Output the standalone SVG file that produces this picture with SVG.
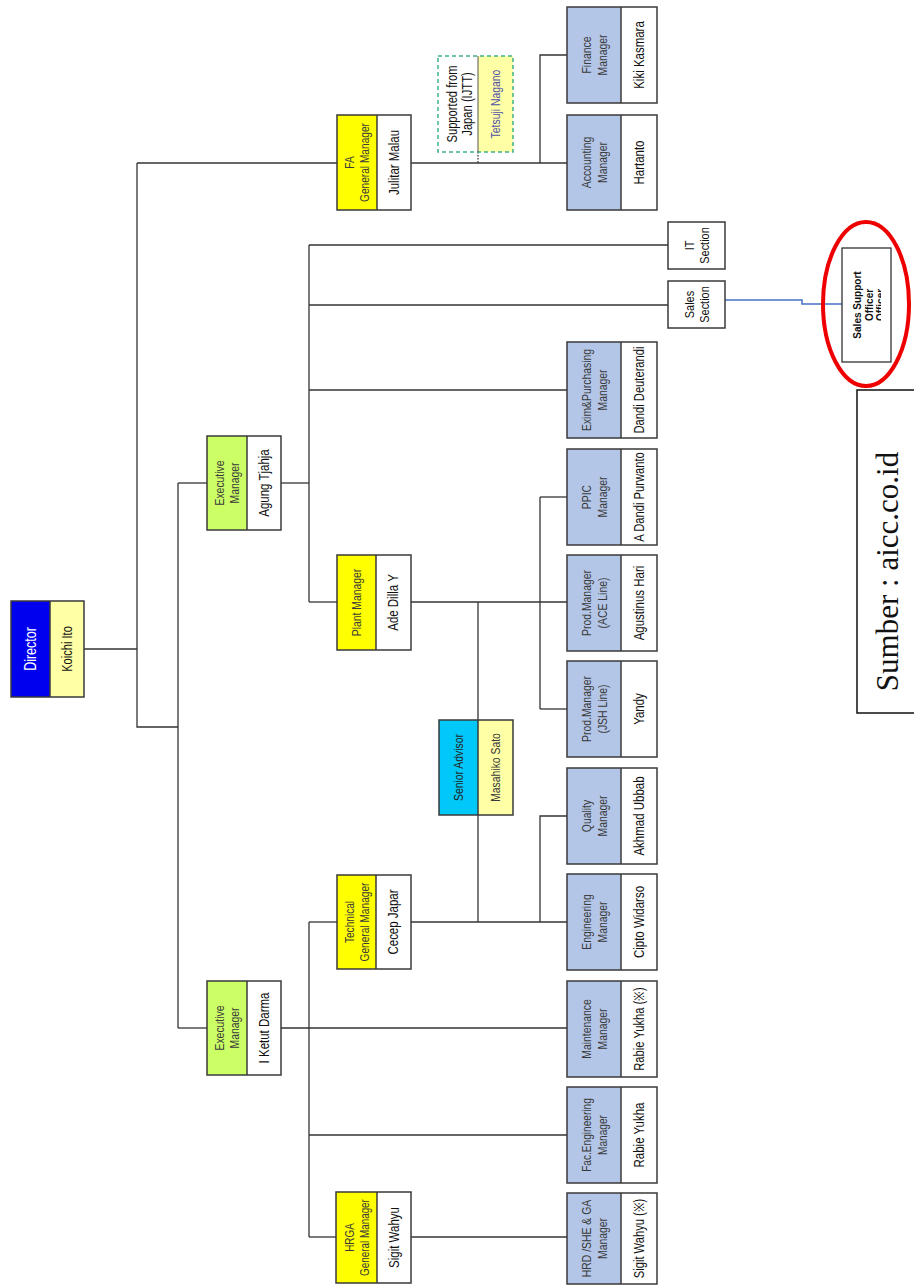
<svg xmlns="http://www.w3.org/2000/svg" width="914" height="1287" viewBox="0 0 914 1287">
<defs>
<style>
.bg{fill:#ffffff}
.ol{fill:none;stroke:#3a3a3a;stroke-width:1.5}
.w{fill:#ffffff}
.ly{fill:#ffffa6}
.gm{fill:#ffff00}
.ex{fill:#ccff66}
.mg{fill:#b4c6e7}
.dir{fill:#0000ee}
.sa{fill:#00c8f8}
.t{font-family:"Liberation Sans",Arial,sans-serif;font-size:13px;fill:#3a3a3a;text-anchor:middle}
.n{font-family:"Liberation Sans",Arial,sans-serif;font-size:14px;fill:#111111;text-anchor:middle}
.s{font-family:"Liberation Sans",Arial,sans-serif;font-size:13px;fill:#111111;text-anchor:middle}
.c path{fill:none;stroke:#333333;stroke-width:1.3}
</style>
<clipPath id="ssclip"><rect x="842" y="248" width="39" height="114"/></clipPath>
</defs>
<rect class="bg" x="0" y="0" width="914" height="1287"/>

<g class="c" id="connectors">
<path d="M84,649 H137"/>
<path d="M137,163 V727 H178"/>
<path d="M137,163 H337"/>
<path d="M411,163 H567"/>
<path d="M540,163 V55 H567"/>
<path d="M178,483 V1028"/>
<path d="M178,483 H207"/>
<path d="M178,1028 H207"/>
<path d="M281,483 H309"/>
<path d="M309,245 V602"/>
<path d="M309,245 H668"/>
<path d="M309,305 H668"/>
<path d="M309,390 H567"/>
<path d="M309,602 H337"/>
<path d="M411,602 H567"/>
<path d="M540,497 V709"/>
<path d="M540,497 H567"/>
<path d="M540,709 H567"/>
<path d="M478,602 V720"/>
<path d="M478,815 V922"/>
<path d="M281,1028 H567"/>
<path d="M309,922 V1237"/>
<path d="M309,922 H337"/>
<path d="M411,922 H567"/>
<path d="M540,922 V816 H567"/>
<path d="M309,1135 H567"/>
<path d="M309,1237 H336"/>
<path d="M411,1237 H567"/>
<path d="M478,152 V163" style="stroke-dasharray:1.5,1.5"/>
<path d="M725,300 H802 V304 H842" style="stroke:#4472c4;stroke-width:1.5"/>
</g>

<g id="n-director">
<rect class="dir" x="11" y="601" width="39" height="96"/>
<rect class="ly" x="50" y="601" width="34" height="96"/>
<rect class="ol" x="11" y="601" width="73" height="96"/>
<path d="M50,601 V697" class="ol"/>
<text class="t" style="font-size:16px;fill:#ffffff" transform="translate(30.5,649) rotate(-90) scale(0.78,1)" y="5.6">Director</text>
<text class="n" style="font-size:15px" transform="translate(67,649) rotate(-90) scale(0.74,1)" y="5.3">Koichi Ito</text>
</g>

<g id="n-exec1">
<rect class="ex" x="207" y="436" width="40" height="94"/>
<rect class="w" x="247" y="436" width="34" height="94"/>
<rect class="ol" x="207" y="436" width="74" height="94"/>
<path d="M247,436 V530" class="ol"/>
<text class="t" transform="translate(227,483) rotate(-90) scale(0.8,1)"><tspan x="0" y="-2.9">Executive</tspan><tspan x="0" y="12.1">Manager</tspan></text>
<text class="n" transform="translate(264,483) rotate(-90) scale(0.82,1)" y="4.9">Agung Tjahja</text>
</g>

<g id="n-exec2">
<rect class="ex" x="207" y="981" width="40" height="94"/>
<rect class="w" x="247" y="981" width="34" height="94"/>
<rect class="ol" x="207" y="981" width="74" height="94"/>
<path d="M247,981 V1075" class="ol"/>
<text class="t" transform="translate(227,1028) rotate(-90) scale(0.8,1)"><tspan x="0" y="-2.9">Executive</tspan><tspan x="0" y="12.1">Manager</tspan></text>
<text class="n" transform="translate(264,1028) rotate(-90) scale(0.82,1)" y="4.9">I Ketut Darma</text>
</g>

<g id="n-fa">
<rect class="gm" x="337" y="115" width="40" height="95"/>
<rect class="w" x="377" y="115" width="34" height="95"/>
<rect class="ol" x="337" y="115" width="74" height="95"/>
<path d="M377,115 V210" class="ol"/>
<text class="t" transform="translate(357,162.5) rotate(-90) scale(0.78,1)"><tspan x="0" y="-2.9">FA</tspan><tspan x="0" y="12.1">General Manager</tspan></text>
<text class="n" transform="translate(394,162.5) rotate(-90) scale(0.82,1)" y="4.9">Julitar Malau</text>
</g>

<g id="n-supported">
<rect class="w" x="438" y="56" width="40" height="96"/>
<rect class="ly" x="478" y="56" width="35" height="96"/>
<rect x="438" y="56" width="75" height="96" style="fill:none;stroke:#3cb38a;stroke-width:1.5;stroke-dasharray:4,3"/>
<path d="M478,56 V152" style="stroke:#555;stroke-width:1"/>
<text class="n" transform="translate(459.5,104) rotate(-90) scale(0.8,1)"><tspan x="0" y="-2.6">Supported from</tspan><tspan x="0" y="12.4">Japan (IJTT)</tspan></text>
<text class="n" style="font-size:13px;fill:#5050a8" transform="translate(495.5,104) rotate(-90) scale(0.8,1)" y="4.6">Tetsuji Nagano</text>
</g>

<g id="n-plant">
<rect class="gm" x="337" y="555" width="39" height="95"/>
<rect class="w" x="376" y="555" width="35" height="95"/>
<rect class="ol" x="337" y="555" width="74" height="95"/>
<path d="M376,555 V650" class="ol"/>
<text class="t" transform="translate(356.5,602.5) rotate(-90) scale(0.8,1)" y="4.6">Plant Manager</text>
<text class="n" transform="translate(393.5,602.5) rotate(-90) scale(0.82,1)" y="4.9">Ade Dilla Y</text>
</g>

<g id="n-technical">
<rect class="gm" x="337" y="875" width="39" height="94"/>
<rect class="w" x="376" y="875" width="35" height="94"/>
<rect class="ol" x="337" y="875" width="74" height="94"/>
<path d="M376,875 V969" class="ol"/>
<text class="t" transform="translate(356.5,922) rotate(-90) scale(0.78,1)"><tspan x="0" y="-2.9">Technical</tspan><tspan x="0" y="12.1">General Manager</tspan></text>
<text class="n" transform="translate(393.5,922) rotate(-90) scale(0.82,1)" y="4.9">Cecep Japar</text>
</g>

<g id="n-hrga">
<rect class="gm" x="336" y="1192" width="41" height="91"/>
<rect class="w" x="377" y="1192" width="34" height="91"/>
<rect class="ol" x="336" y="1192" width="75" height="91"/>
<path d="M377,1192 V1283" class="ol"/>
<text class="t" transform="translate(356.5,1237.5) rotate(-90) scale(0.76,1)"><tspan x="0" y="-2.9">HRGA</tspan><tspan x="0" y="12.1">General Manager</tspan></text>
<text class="n" transform="translate(394,1237.5) rotate(-90) scale(0.82,1)" y="4.9">Sigit Wahyu</text>
</g>

<g id="n-senior">
<rect class="sa" x="439" y="720" width="39" height="95"/>
<rect class="ly" x="478" y="720" width="35" height="95"/>
<rect class="ol" x="439" y="720" width="74" height="95"/>
<path d="M478,720 V815" class="ol"/>
<text class="t" style="fill:#222" transform="translate(458.5,767.5) rotate(-90) scale(0.8,1)" y="4.6">Senior Advisor</text>
<text class="t" transform="translate(495.5,767.5) rotate(-90) scale(0.8,1)" y="4.6">Masahiko Sato</text>
</g>

<g id="n-finance">
<rect class="mg" x="567" y="7" width="54" height="96"/>
<rect class="w" x="621" y="7" width="36" height="96"/>
<rect class="ol" x="567" y="7" width="90" height="96"/>
<path d="M621,7 V103" class="ol"/>
<text class="t" transform="translate(594,55) rotate(-90) scale(0.8,1)"><tspan x="0" y="-3.4">Finance</tspan><tspan x="0" y="12.6">Manager</tspan></text>
<text class="n" transform="translate(639,55) rotate(-90) scale(0.82,1)" y="4.9">Kiki Kasmara</text>
</g>

<g id="n-accounting">
<rect class="mg" x="567" y="115" width="54" height="95"/>
<rect class="w" x="621" y="115" width="36" height="95"/>
<rect class="ol" x="567" y="115" width="90" height="95"/>
<path d="M621,115 V210" class="ol"/>
<text class="t" transform="translate(594,162.5) rotate(-90) scale(0.8,1)"><tspan x="0" y="-3.4">Accounting</tspan><tspan x="0" y="12.6">Manager</tspan></text>
<text class="n" transform="translate(639,162.5) rotate(-90) scale(0.82,1)" y="4.9">Hartanto</text>
</g>

<g id="n-it">
<rect class="w" x="668" y="222" width="57" height="47"/>
<rect class="ol" x="668" y="222" width="57" height="47"/>
<text class="s" transform="translate(697,245.5) rotate(-90) scale(0.84,1)"><tspan x="0" y="-3">IT</tspan><tspan x="0" y="12.5">Section</tspan></text>
</g>

<g id="n-sales">
<rect class="w" x="668" y="281" width="57" height="47"/>
<rect class="ol" x="668" y="281" width="57" height="47"/>
<text class="s" transform="translate(697,304.5) rotate(-90) scale(0.84,1)"><tspan x="0" y="-3">Sales</tspan><tspan x="0" y="12.5">Section</tspan></text>
</g>

<g id="n-salessupport">
<rect x="842" y="248" width="49" height="114" style="fill:#ffffff;stroke:#222;stroke-width:1.2"/>
<g clip-path="url(#ssclip)">
<text class="s" style="font-size:10px;font-weight:bold" transform="translate(861,305) rotate(-90)"><tspan x="0" y="0">Sales Support</tspan><tspan x="0" y="11.5">Officer</tspan><tspan x="0" y="23">Officer</tspan></text>
</g>
</g>

<g id="highlight">
<ellipse cx="866" cy="304" rx="43" ry="82" style="fill:none;stroke:#ee0000;stroke-width:4"/>
</g>

<g id="n-exim">
<rect class="mg" x="567" y="342" width="54" height="96"/>
<rect class="w" x="621" y="342" width="36" height="96"/>
<rect class="ol" x="567" y="342" width="90" height="96"/>
<path d="M621,342 V438" class="ol"/>
<text class="t" transform="translate(594,390) rotate(-90) scale(0.8,1)"><tspan x="0" y="-3.4">Exim&amp;Purchasing</tspan><tspan x="0" y="12.6">Manager</tspan></text>
<text class="n" transform="translate(639,390) rotate(-90) scale(0.8,1)" y="4.9">Dandi Deuterandi</text>
</g>

<g id="n-ppic">
<rect class="mg" x="567" y="449" width="54" height="96"/>
<rect class="w" x="621" y="449" width="36" height="96"/>
<rect class="ol" x="567" y="449" width="90" height="96"/>
<path d="M621,449 V545" class="ol"/>
<text class="t" transform="translate(594,497) rotate(-90) scale(0.8,1)"><tspan x="0" y="-3.4">PPIC</tspan><tspan x="0" y="12.6">Manager</tspan></text>
<text class="n" transform="translate(639,497) rotate(-90) scale(0.8,1)" y="4.9">A Dandi Purwanto</text>
</g>

<g id="n-ace">
<rect class="mg" x="567" y="555" width="54" height="96"/>
<rect class="w" x="621" y="555" width="36" height="96"/>
<rect class="ol" x="567" y="555" width="90" height="96"/>
<path d="M621,555 V651" class="ol"/>
<text class="t" transform="translate(594,603) rotate(-90) scale(0.8,1)"><tspan x="0" y="-3.4">Prod.Manager</tspan><tspan x="0" y="12.6">(ACE Line)</tspan></text>
<text class="n" transform="translate(639,603) rotate(-90) scale(0.82,1)" y="4.9">Agustinus Hari</text>
</g>

<g id="n-jsh">
<rect class="mg" x="567" y="661" width="54" height="96"/>
<rect class="w" x="621" y="661" width="36" height="96"/>
<rect class="ol" x="567" y="661" width="90" height="96"/>
<path d="M621,661 V757" class="ol"/>
<text class="t" transform="translate(594,709) rotate(-90) scale(0.8,1)"><tspan x="0" y="-3.4">Prod.Manager</tspan><tspan x="0" y="12.6">(JSH Line)</tspan></text>
<text class="n" transform="translate(639,709) rotate(-90) scale(0.82,1)" y="4.9">Yandy</text>
</g>

<g id="n-quality">
<rect class="mg" x="567" y="768" width="54" height="96"/>
<rect class="w" x="621" y="768" width="36" height="96"/>
<rect class="ol" x="567" y="768" width="90" height="96"/>
<path d="M621,768 V864" class="ol"/>
<text class="t" transform="translate(594,816) rotate(-90) scale(0.8,1)"><tspan x="0" y="-3.4">Quality</tspan><tspan x="0" y="12.6">Manager</tspan></text>
<text class="n" transform="translate(639,816) rotate(-90) scale(0.82,1)" y="4.9">Akhmad Ubbab</text>
</g>

<g id="n-engineering">
<rect class="mg" x="567" y="874" width="54" height="96"/>
<rect class="w" x="621" y="874" width="36" height="96"/>
<rect class="ol" x="567" y="874" width="90" height="96"/>
<path d="M621,874 V970" class="ol"/>
<text class="t" transform="translate(594,922) rotate(-90) scale(0.8,1)"><tspan x="0" y="-3.4">Engineering</tspan><tspan x="0" y="12.6">Manager</tspan></text>
<text class="n" transform="translate(639,922) rotate(-90) scale(0.82,1)" y="4.9">Cipto Widarso</text>
</g>

<g id="n-maintenance">
<rect class="mg" x="567" y="981" width="54" height="96"/>
<rect class="w" x="621" y="981" width="36" height="96"/>
<rect class="ol" x="567" y="981" width="90" height="96"/>
<path d="M621,981 V1077" class="ol"/>
<text class="t" transform="translate(594,1029) rotate(-90) scale(0.8,1)"><tspan x="0" y="-3.4">Maintenance</tspan><tspan x="0" y="12.6">Manager</tspan></text>
<text class="n" transform="translate(639,1029) rotate(-90) scale(0.8,1)" y="4.9">Rabie Yukha (※)</text>
</g>

<g id="n-faceng">
<rect class="mg" x="567" y="1087" width="54" height="96"/>
<rect class="w" x="621" y="1087" width="36" height="96"/>
<rect class="ol" x="567" y="1087" width="90" height="96"/>
<path d="M621,1087 V1183" class="ol"/>
<text class="t" transform="translate(594,1135) rotate(-90) scale(0.78,1)"><tspan x="0" y="-3.4">Fac.Engineering</tspan><tspan x="0" y="12.6">Manager</tspan></text>
<text class="n" transform="translate(639,1135) rotate(-90) scale(0.82,1)" y="4.9">Rabie Yukha</text>
</g>

<g id="n-hrd">
<rect class="mg" x="567" y="1193" width="54" height="91"/>
<rect class="w" x="621" y="1193" width="36" height="91"/>
<rect class="ol" x="567" y="1193" width="90" height="91"/>
<path d="M621,1193 V1284" class="ol"/>
<text class="t" transform="translate(594,1238.5) rotate(-90) scale(0.8,1)"><tspan x="0" y="-3.4">HRD /SHE &amp; GA</tspan><tspan x="0" y="12.6">Manager</tspan></text>
<text class="n" transform="translate(639,1238.5) rotate(-90) scale(0.8,1)" y="4.9">Sigit Wahyu (※)</text>
</g>

<g id="source">
<rect x="857" y="390" width="80" height="323" style="fill:#ffffff;stroke:#111;stroke-width:1.5"/>
<text transform="translate(898,571.5) rotate(-90)" style="font-family:'Liberation Serif','Times New Roman',serif;font-size:31px;fill:#111;text-anchor:middle">Sumber : aicc.co.id</text>
</g>
</svg>
